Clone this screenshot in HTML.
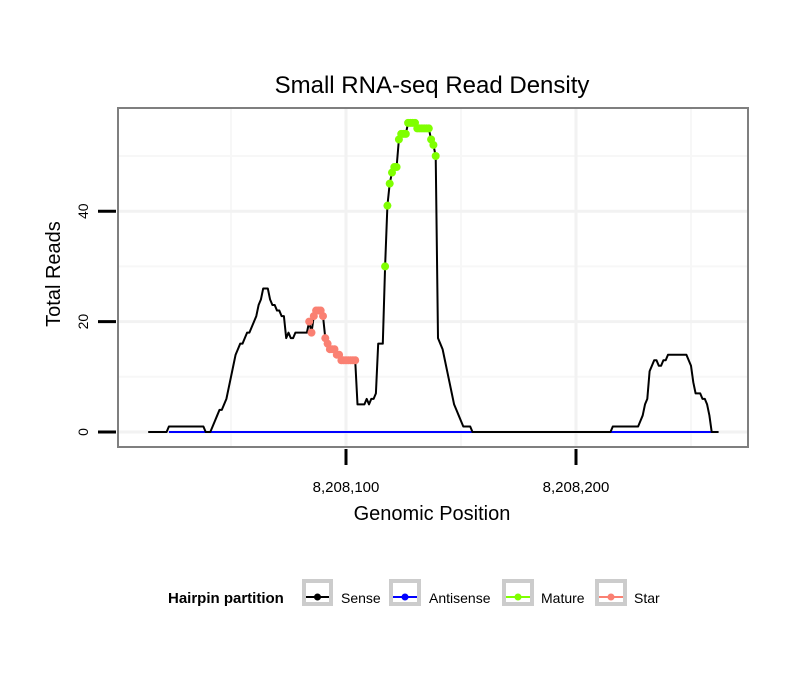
<!DOCTYPE html>
<html><head><meta charset="utf-8"><style>
body{margin:0;background:#fff;font-family:"Liberation Sans",sans-serif}
svg text{font-family:"Liberation Sans",sans-serif}
</style></head><body>
<svg width="810" height="690" viewBox="0 0 810 690">
<script>
const positions=[];for(let p=14;p<=262;p++)positions.push(p);
const senseValues=[0,0,0,0,0,0,0,0,0,1,1,1,1,1,1,1,1,1,1,1,1,1,1,1,1,0,0,0,1,2,3,4,4,5,6,8,10,12,14,15,16,16,17,18,18,19,20,21,23,24,26,26,26,24,23,23,22,22,21,21,17,18,17,17,18,18,18,18,18,18,20,18,21,22,22,22,21,17,16,15,15,15,14,14,13,13,13,13,13,13,13,5,5,5,5,6,5,6,6,7,16,16,16,30,41,45,47,48,48,53,54,54,54,56,56,56,56,55,55,55,55,55,55,53,52,50,17,16,15,13,11,9,7,5,4,3,2,1,1,1,1,
0,0,0,0,0,0,0,0,0,0,0,0,0,0,0,0,0,0,0,0,0,0,0,0,0,0,0,0,0,0,0,0,0,0,0,0,0,0,0,0,0,0,0,0,0,0,0,0,0,0,0,0,0,0,0,0,0,0,0,0,0,
1,1,1,1,1,1,1,1,1,1,1,1,2,3,5,6,11,12,13,13,12,12,13,13,14,14,14,14,14,14,14,14,14,13,12,9,7,7,7,6,6,5,3,0,0,0,0];
const antisenseStart=23, antisenseEnd=259;
const starStart=84, starEnd=104;
const matureStart=117, matureEnd=139;
const yTicks=[0,20,40];
const xTicks=[8208100,8208200];
const xBase=8208000;
</script>
<text x="432" y="93" text-anchor="middle" font-size="24">Small RNA-seq Read Density</text>
<g id="grid"></g>
<g id="marks"></g>
<rect x="118" y="108" width="630" height="339" fill="none" stroke="#7f7f7f" stroke-width="2"/>
<g id="axes"></g>
<text x="432" y="520" text-anchor="middle" font-size="20">Genomic Position</text>
<text transform="translate(60,274) rotate(-90)" text-anchor="middle" font-size="20">Total Reads</text>
<g>
<text x="168" y="603" font-size="15" font-weight="bold">Hairpin partition</text>
<g><rect x="304" y="581" width="27" height="23" fill="#fff" stroke="#ccc" stroke-width="4"/><line x1="306" y1="597" x2="329" y2="597" stroke="#000" stroke-width="2"/><circle cx="317.5" cy="597" r="3.5" fill="#000"/><text x="341" y="603" font-size="14">Sense</text></g>
<g><rect x="391" y="581" width="28" height="23" fill="#fff" stroke="#ccc" stroke-width="4"/><line x1="393" y1="597" x2="417" y2="597" stroke="#00f" stroke-width="2"/><circle cx="405" cy="597" r="3.5" fill="#00f"/><text x="429" y="603" font-size="14">Antisense</text></g>
<g><rect x="504" y="581" width="28" height="23" fill="#fff" stroke="#ccc" stroke-width="4"/><line x1="506" y1="597" x2="530" y2="597" stroke="#7fff00" stroke-width="2"/><circle cx="518" cy="597" r="3.5" fill="#7fff00"/><text x="541" y="603" font-size="14">Mature</text></g>
<g><rect x="597" y="581" width="28" height="23" fill="#fff" stroke="#ccc" stroke-width="4"/><line x1="599" y1="597" x2="623" y2="597" stroke="#fa8072" stroke-width="2"/><circle cx="611" cy="597" r="3.5" fill="#fa8072"/><text x="634" y="603" font-size="14">Star</text></g>
</g>
<script>
const NS="http://www.w3.org/2000/svg";
function X(p){return 346+(p-(xBase+100))*2.3;}
function Y(v){return 432-v*5.52;}
function mk(tag,attrs,parent){const e=document.createElementNS(NS,tag);for(const k in attrs)e.setAttribute(k,attrs[k]);parent.appendChild(e);return e;}
const grid=document.getElementById('grid'),marks=document.getElementById('marks'),axes=document.getElementById('axes');
mk('rect',{x:118,y:108,width:630,height:339,fill:'#fff'},grid);
for(const v of [10,30,50]){const l=mk('line',{x1:118,x2:748,y1:Y(v),y2:Y(v),stroke:'#f7f7f7','stroke-width':2},grid);}
for(const p of [xBase+50,xBase+150,xBase+250]){const l=mk('line',{x1:X(p),x2:X(p),y1:108,y2:447,stroke:'#f7f7f7','stroke-width':2},grid);}
for(const v of yTicks){const l=mk('line',{x1:118,x2:748,y1:Y(v),y2:Y(v),stroke:'#f2f2f2','stroke-width':3},grid);
const t=mk('line',{x1:98,x2:116,y1:Y(v),y2:Y(v),stroke:'#000','stroke-width':3},axes);
const tx=mk('text',{transform:`translate(88,${Y(v)}) rotate(-90)`,'text-anchor':'middle','font-size':14},axes);tx.textContent=v;}
for(const p of xTicks){const l=mk('line',{x1:X(p),x2:X(p),y1:108,y2:447,stroke:'#f2f2f2','stroke-width':3},grid);
const t=mk('line',{x1:X(p),x2:X(p),y1:449,y2:465,stroke:'#000','stroke-width':3},axes);
const tx=mk('text',{x:X(p),y:492,'text-anchor':'middle','font-size':15},axes);tx.textContent=p.toLocaleString('en-US');}
const pts=positions.map((p,i)=>X(xBase+p)+','+Y(senseValues[i])).join(' ');
const al=mk('line',{x1:X(xBase+antisenseStart),x2:X(xBase+antisenseEnd),y1:Y(0),y2:Y(0),stroke:'#00f','stroke-width':2},marks);


const sl=mk('polyline',{points:pts,fill:'none',stroke:'#000','stroke-width':2,'stroke-linejoin':'round'},marks);


function dots(s,e,color,name){const g=mk('g',{},marks);
positions.forEach((p,i)=>{if(p>=s&&p<=e){const c=mk('circle',{cx:X(xBase+p),cy:Y(senseValues[i]),r:4,fill:color},g);}});}
dots(starStart,starEnd,'#fa8072','star-series');
dots(matureStart,matureEnd,'#7fff00','mature-series');
</script>
</svg>
</body></html>
